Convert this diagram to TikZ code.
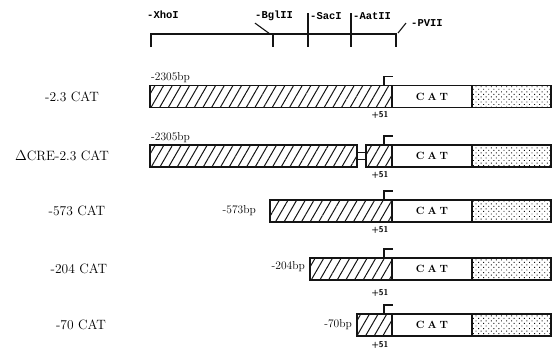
\documentclass[tikz,border=0pt]{standalone}
\usepackage{fontspec}
\newfontfamily\enzfont{Liberation Mono}
\usepackage{tikz}
\usetikzlibrary{positioning,patterns.meta}
\definecolor{ink}{RGB}{20,20,20}
\tikzset{
  prom/.style={draw=ink,line width=1.5pt,outer sep=0pt,
    pattern={Lines[angle=60,distance=7.5pt,line width=1pt]},pattern color=ink,
    minimum height=22pt,inner sep=0pt,anchor=west},
  catbox/.style={draw=ink,line width=1.5pt,outer sep=0pt,fill=white,minimum width=80pt,
    minimum height=22pt,inner sep=0pt,font=\bfseries\fontsize{10.5}{13}\selectfont},
  tail/.style={draw=ink,line width=1.5pt,outer sep=0pt,
    pattern={Dots[distance=3.6pt,radius=0.65pt,angle=45]},pattern color=ink,
    minimum width=79pt,minimum height=22pt,inner sep=0pt},
  rowlbl/.style={font=\fontsize{13.5}{15}\selectfont},
  bplbl/.style={font=\fontsize{11.5}{13}\selectfont,inner sep=1pt},
  plus/.style={font=\sffamily\bfseries\fontsize{8.5}{9}\selectfont,inner sep=1pt,anchor=north},
  enz/.style={font=\enzfont\bfseries\fontsize{10.5}{12}\selectfont,inner sep=0pt,anchor=west},
  maprule/.style={line width=1.1pt,ink},
  flag/.style={line width=1.3pt,ink},
}
\newcommand{\CATtxt}{C\hspace{3pt}A\hspace{3pt}T}

\begin{document}
\begin{tikzpicture}[x=1pt,y=-1pt]
  \useasboundingbox (0,0) rectangle (552,354);
  % restriction map
  \coordinate (xho) at (151,34);
  \coordinate (bgl) at (273,34);
  \coordinate (sac) at (308,34);
  \coordinate (aat) at (351,34);
  \coordinate (pvu) at (396,34);
  \node[enz] (lxho) at (147,15) {-XhoI};
  \node[enz] (lbgl) at (255,16) {-BglII};
  \node[enz] (lsac) at (310,16) {-SacI};
  \node[enz] (laat) at (353,16) {-AatII};
  \node[enz] (lpvu) at (411,23) {-PVII};
  \draw[maprule] ([yshift=-13pt]xho) -- (xho) -- (pvu) -- ++(0,13);
  \foreach \c in {bgl,sac,aat}
    \draw[maprule] (\c) -- ++(0,13);
  \draw[maprule] (sac) -- ++(0,-21);
  \draw[maprule] (aat) -- ++(0,-21);
  \draw[maprule] ([xshift=-3pt]bgl) -- ([yshift=-2pt]lbgl.south west);
  \draw[maprule] ([xshift=2pt,yshift=1pt]pvu) -- ([xshift=-5pt]lpvu.west);

  % -2.3 CAT
  \node[rowlbl] (r1) at (72,96.5) {-2.3 CAT};
  \node[prom,minimum width=242pt] (h1) at (150,96.5) {};
  \node[catbox,right=0pt of h1] (c1) {\CATtxt};
  \node[tail,right=0pt of c1] (t1) {};
  \node[bplbl,anchor=base west] (b1) at ([yshift=5pt]h1.north west) {-2305bp};
  \node[plus] (p1) at ([xshift=-12pt,yshift=-3pt]h1.south east) {+51};
  \draw[flag] ([xshift=-8pt]h1.north east) -- ++(0,-9) -- ++(9,0);

  % delta CRE -2.3 CAT
  \node[rowlbl] (r2) at (62,156) {$\Delta$CRE-2.3 CAT};
  \node[prom,minimum width=207pt] (h2a) at (150,156) {};
  \node[prom,minimum width=26pt,right=9pt of h2a] (h2b) {};
  \draw[maprule] ([yshift=3.5pt]h2a.east) -- ([yshift=3.5pt]h2b.west);
  \draw[maprule] ([yshift=-3.5pt]h2a.east) -- ([yshift=-3.5pt]h2b.west);
  \node[catbox,right=0pt of h2b] (c2) {\CATtxt};
  \node[tail,right=0pt of c2] (t2) {};
  \node[bplbl,anchor=base west] (b2) at ([yshift=5pt]h2a.north west) {-2305bp};
  \node[plus] (p2) at ([xshift=-12pt,yshift=-3pt]h2b.south east) {+51};
  \draw[flag] ([xshift=-8pt]h2b.north east) -- ++(0,-9) -- ++(9,0);

  % -573 CAT
  \node[rowlbl] (r3) at (77,211) {-573 CAT};
  \node[prom,minimum width=122pt] (h3) at (270,211) {};
  \node[catbox,right=0pt of h3] (c3) {\CATtxt};
  \node[tail,right=0pt of c3] (t3) {};
  \node[bplbl,left=13pt of h3] (b3) {-573bp};
  \node[plus] (p3) at ([xshift=-12pt,yshift=-3pt]h3.south east) {+51};
  \draw[flag] ([xshift=-8pt]h3.north east) -- ++(0,-9) -- ++(9,0);

  % -204 CAT
  \node[rowlbl] (r4) at (79,269) {-204 CAT};
  \node[prom,minimum width=82pt] (h4) at (310,269) {};
  \node[catbox,right=0pt of h4] (c4) {\CATtxt};
  \node[tail,right=0pt of c4] (t4) {};
  \node[bplbl,left=4pt of h4,yshift=2pt] (b4) {-204bp};
  \node[plus] (p4) at ([xshift=-12pt,yshift=-8pt]h4.south east) {+51};
  \draw[flag] ([xshift=-8pt]h4.north east) -- ++(0,-9) -- ++(9,0);

  % -70 CAT
  \node[rowlbl] (r5) at (81,325) {-70 CAT};
  \node[prom,minimum width=35pt] (h5) at (357,325) {};
  \node[catbox,right=0pt of h5] (c5) {\CATtxt};
  \node[tail,right=0pt of c5] (t5) {};
  \node[bplbl,left=4pt of h5] (b5) {-70bp};
  \node[plus] (p5) at ([xshift=-12pt,yshift=-4pt]h5.south east) {+51};
  \draw[flag] ([xshift=-8pt]h5.north east) -- ++(0,-9) -- ++(9,0);
\end{tikzpicture}
\end{document}
